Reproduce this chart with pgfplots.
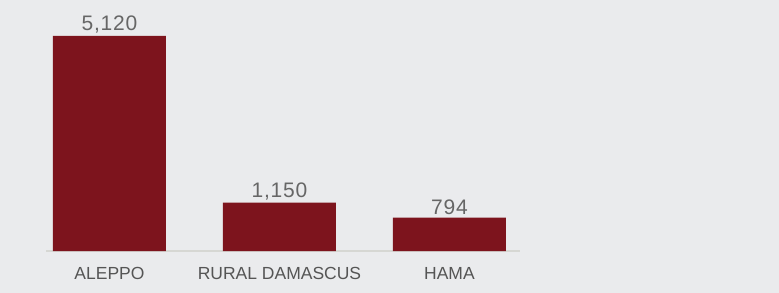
\documentclass[border=0pt]{standalone}
\usepackage{fontspec}
\setmainfont{Liberation Sans}
\newfontfamily\valfont[LetterSpace=4]{Liberation Sans}
\usepackage{pgfplots}
\pgfplotsset{compat=1.18}
\definecolor{bg}{HTML}{EAEBED}
\definecolor{barred}{HTML}{7D141D}
\definecolor{axgray}{HTML}{D6D7D3}
\definecolor{valgray}{HTML}{666666}
\definecolor{labgray}{HTML}{555555}
\begin{document}
\begin{tikzpicture}
\fill[bg] (0,0) rectangle (779bp,293bp);
\begin{axis}[
  at={(46bp,42bp)}, anchor=south west,
  scale only axis, width=474bp, height=251bp,
  xmin=-0.3735, xmax=2.415, ymin=0, ymax=5977,
  axis y line=none,
  axis x line*=bottom,
  x axis line style={draw=axgray, line width=1.2pt, -},
  xtick=data, xticklabels={ALEPPO,RURAL DAMASCUS,HAMA},
  major tick length=0pt,
  xticklabel style={font=\fontsize{17.5bp}{20bp}\selectfont, text=labgray, yshift=-13bp},
  ybar, bar width=113bp,
  /pgf/number format/assume math mode=true,
  nodes near coords={\pgfmathprintnumber[fixed, assume math mode=true, 1000 sep={,}]{\pgfplotspointmeta}},
  nodes near coords style={font=\valfont\fontsize{21bp}{24bp}\selectfont, text=valgray, yshift=-1bp},
  point meta=y,
  clip=false,
]
\addplot[fill=barred, draw=none] coordinates {(0,5120) (1,1150) (2,794)};
\end{axis}
\pgfresetboundingbox
\path (0,0) rectangle (779bp,293bp);
\end{tikzpicture}
\end{document}
